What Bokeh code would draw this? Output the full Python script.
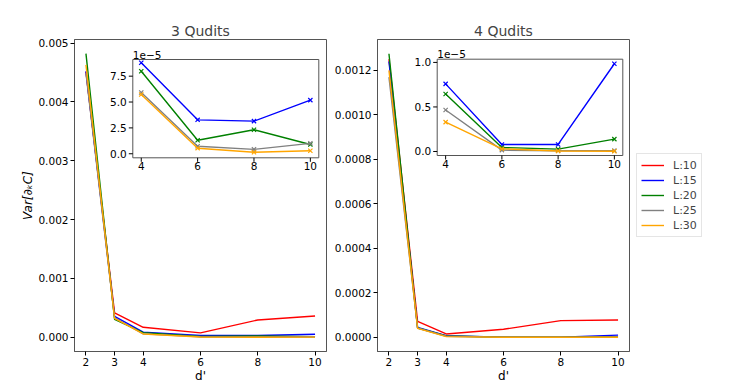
import math
from bokeh.plotting import figure
from bokeh.layouts import row
from bokeh.models import (Range1d, FixedTicker, NumeralTickFormatter, Legend, LegendItem)
from bokeh.core.properties import value
from bokeh.embed import file_html
from bokeh.resources import INLINE

# ---------------- data ----------------
d_vals = [2, 3, 4, 6, 8, 10]
series_labels = ["L:10", "L:15", "L:20", "L:25", "L:30"]
series_colors = ["red", "blue", "green", "gray", "orange"]

# 3 Qudits
q3_L10 = [0.00451, 0.000414, 0.00017, 0.000075, 0.000295, 0.000363]
q3_L15 = [0.00452, 0.000357, 8.79e-5, 3.28e-5, 3.15e-5, 5.18e-5]
q3_L20 = [0.00482, 0.000306, 7.98e-5, 1.31e-5, 2.32e-5, 0.90e-5]
q3_L25 = [0.00449, 0.000330, 5.92e-5, 0.73e-5, 0.42e-5, 1.00e-5]
q3_L30 = [0.00463, 0.000320, 5.73e-5, 0.54e-5, 0.15e-5, 0.29e-5]

# 4 Qudits
q4_L10 = [0.00125, 7.17e-5, 1.5e-5, 3.6e-5, 7.5e-5, 7.8e-5]
q4_L15 = [0.00124, 4.5e-5, 0.759e-5, 0.079e-5, 0.079e-5, 0.985e-5]
q4_L20 = [0.001275, 4.2e-5, 0.646e-5, 0.045e-5, 0.026e-5, 0.139e-5]
q4_L25 = [0.00117, 4.2e-5, 0.466e-5, 0.015e-5, 0.008e-5, 0.010e-5]
q4_L30 = [0.00120, 4.0e-5, 0.330e-5, 0.030e-5, 0.005e-5, 0.003e-5]

q3_series = [q3_L10, q3_L15, q3_L20, q3_L25, q3_L30]
q4_series = [q4_L10, q4_L15, q4_L20, q4_L25, q4_L30]

titles = ["3 Qudits", "4 Qudits"]
y_label = "Var[∂ₖC]"
x_label = "d'"

q3_yticks = [0.0, 0.001, 0.002, 0.003, 0.004, 0.005]
q4_yticks = [0.0, 0.0002, 0.0004, 0.0006, 0.0008, 0.0010, 0.0012]
q3_inset_yticks = [0.0, 2.5e-5, 5.0e-5, 7.5e-5]
q3_inset_ylabels = ["0.0", "2.5", "5.0", "7.5"]
q4_inset_yticks = [0.0, 0.5e-5, 1.0e-5]
q4_inset_ylabels = ["0.0", "0.5", "1.0"]
inset_xticks = [4, 6, 8, 10]
inset_xlabels = ["4", "6", "8", "10"]
inset_offset_label = "1e−5"

FONT = "DejaVu Sans"
SPINE = "#555555"
TICK_SIZE = "10.5px"
FRAME_W, FRAME_H = 252, 312


def style(p):
    p.xgrid.visible = False
    p.ygrid.visible = False
    p.outline_line_color = SPINE
    p.outline_line_width = 1
    for ax in p.axis:
        ax.axis_line_color = SPINE
        ax.major_tick_line_color = "black"
        ax.minor_tick_line_color = None
        ax.major_tick_out = 4
        ax.major_tick_in = 0
        ax.major_label_text_font = FONT
        ax.major_label_text_font_size = TICK_SIZE
        ax.major_label_text_color = "black"
        ax.major_label_standoff = 2
        ax.axis_label_text_font = FONT
        ax.axis_label_text_font_size = "12px"
        ax.axis_label_text_font_style = "normal"
        ax.axis_label_text_color = "black"
        ax.axis_label_standoff = 0


def main_fig(title, series, yr, yticks, fmt, left, right):
    p = figure(frame_width=FRAME_W, frame_height=FRAME_H, min_border_left=left, min_border_right=right,
               min_border_top=39, min_border_bottom=20,
               x_range=Range1d(1.6, 10.4), y_range=yr,
               toolbar_location=None, output_backend="svg")
    p.title.text = title
    p.title.text_font = FONT
    p.title.text_font_size = "14px"
    p.title.text_font_style = "normal"
    p.title.align = "center"
    p.title.standoff = 1
    rs = []
    for vals, c in zip(series, series_colors):
        rs.append(p.line(d_vals, vals, line_color=c, line_width=1.4))
    p.xaxis.ticker = FixedTicker(ticks=d_vals)
    p.yaxis.ticker = FixedTicker(ticks=yticks)
    p.yaxis.formatter = NumeralTickFormatter(format=fmt)
    p.xaxis.axis_label = x_label
    style(p)
    return p, rs


def add_inset(p, series, xs, ys, box, yticks, ylabels):
    """box = (left, top, right, bottom) in pixels, relative to the parent's frame top-left."""
    xr, yr = p.x_range, p.y_range
    l, t, r, b = box
    tx = Range1d(xr.start + l / FRAME_W * (xr.end - xr.start), xr.start + r / FRAME_W * (xr.end - xr.start))
    ty = Range1d(yr.end - b / FRAME_H * (yr.end - yr.start), yr.end - t / FRAME_H * (yr.end - yr.start))
    sub = p.subplot(x_source=xs, y_source=ys, x_target=tx, y_target=ty)
    # frame / background
    sub.quad(left=xs.start, right=xs.end, bottom=ys.start, top=ys.end,
             fill_color="white", line_color=SPINE, line_width=1)
    for vals, c in zip(series[1:], series_colors[1:]):
        sub.line(d_vals[2:], vals[2:], line_color=c, line_width=1.4)
        sub.scatter(d_vals[2:], vals[2:], marker="x", size=6, line_color=c, line_width=1.2)
    # x ticks + labels
    sub.ray(x=inset_xticks, y=ys.start, length=4, length_units="screen", angle=-math.pi / 2,
            line_color="black", line_width=1)
    sub.text(x=inset_xticks, y=ys.start, text=inset_xlabels, y_offset=4,
             text_align="center", text_baseline="top", text_font=value(FONT),
             text_font_size=TICK_SIZE, text_color="black")
    # y ticks + labels
    sub.ray(x=xs.start, y=yticks, length=4, length_units="screen", angle=math.pi,
            line_color="black", line_width=1)
    sub.text(x=xs.start, y=yticks, text=ylabels, x_offset=-6,
             text_align="right", text_baseline="middle", text_font=value(FONT),
             text_font_size=TICK_SIZE, text_color="black")
    # offset text
    sub.text(x=[xs.start], y=[ys.end], text=[inset_offset_label], y_offset=-1,
             text_align="left", text_baseline="bottom", text_font=value(FONT),
             text_font_size=TICK_SIZE, text_color="black")


A, rsA = main_fig(titles[0], q3_series, Range1d(-0.000241, 0.00506), q3_yticks, "0.000", 74, 5)
A.yaxis.axis_label = y_label
A.yaxis.axis_label_text_font_style = "italic"
add_inset(A, q3_series, Range1d(3.7, 10.3), Range1d(-0.39e-5, 9.11e-5),
          (58.3, 20, 244.3, 118.3), q3_inset_yticks, q3_inset_ylabels)

B, rsB = main_fig(titles[1], q4_series, Range1d(-0.0000638, 0.001339), q4_yticks, "0.0000", 42, 104)
add_inset(B, q4_series, Range1d(3.7, 10.3), Range1d(-0.045e-5, 1.036e-5),
          (59.7, 19.7, 245.3, 116), q4_inset_yticks, q4_inset_ylabels)

legend = Legend(items=[LegendItem(label=l, renderers=[r]) for l, r in zip(series_labels, rsB)],
                location="center_left", margin=7, padding=4, spacing=1,
                glyph_width=23, glyph_height=14, label_height=14, label_standoff=9,
                label_text_font=FONT, label_text_font_size="11px",
                border_line_color="#cccccc", border_line_width=1,
                background_fill_alpha=0.85)
B.add_layout(legend, "right")

layout = row(A, B)
open("out.html", "w").write(file_html(layout, INLINE))
